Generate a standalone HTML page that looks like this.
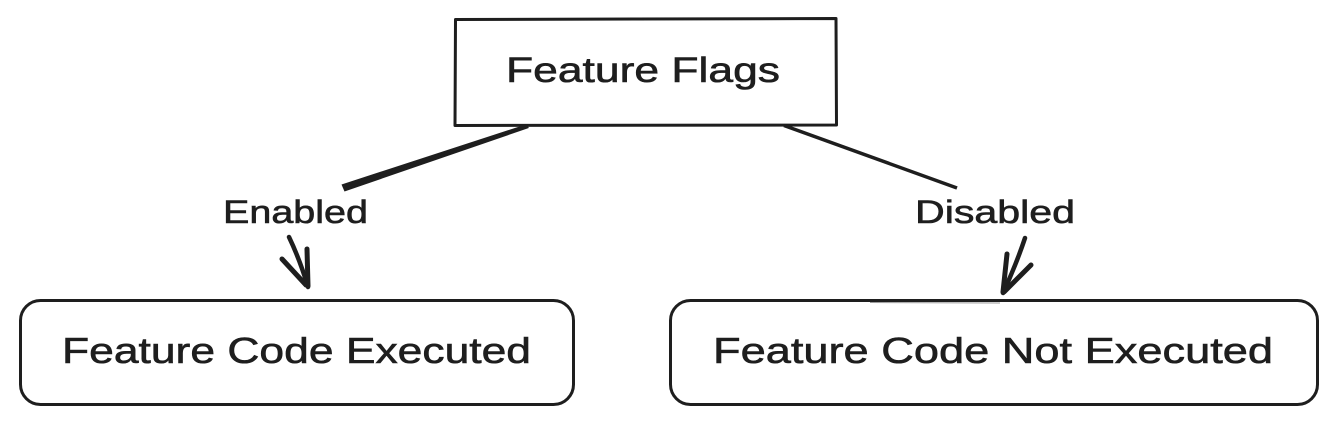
<!DOCTYPE html>
<html>
<head>
<meta charset="utf-8">
<style>
  html, body { margin: 0; padding: 0; background: #ffffff; }
  body { width: 1337px; height: 425px; overflow: hidden; }
  svg { display: block; }
  text { font-family: "Liberation Sans", "DejaVu Sans", sans-serif; fill: #1e1e1e; stroke: #1e1e1e; stroke-width: 0.6; }
</style>
</head>
<body>
<svg width="1337" height="425" viewBox="0 0 1337 425" xmlns="http://www.w3.org/2000/svg">
  <rect x="0" y="0" width="1337" height="425" fill="#ffffff"/>

  <!-- Top box -->
  <path d="M455.5 19.5 L836 18.5 L836.5 125 L455 125.5 Z" fill="none" stroke="#1e1e1e" stroke-width="3" stroke-linejoin="round"/>
  <text x="506" y="82" font-size="35" textLength="274" lengthAdjust="spacingAndGlyphs">Feature Flags</text>

  <!-- Left connector (tapered) -->
  <polygon points="528.8,128 527.2,124 341.5,184.5 344.5,191.5" fill="#1e1e1e"/>
  <!-- Right connector -->
  <path d="M784 125.5 L957 188" fill="none" stroke="#1e1e1e" stroke-width="3.5" stroke-linecap="butt"/>

  <!-- Labels -->
  <text x="223" y="223" font-size="32" textLength="145" lengthAdjust="spacingAndGlyphs">Enabled</text>
  <text x="915" y="223" font-size="32" textLength="160" lengthAdjust="spacingAndGlyphs">Disabled</text>

  <!-- Left arrow -->
  <path d="M289 237 Q300 260 308 287" fill="none" stroke="#1e1e1e" stroke-width="4.5" stroke-linecap="round"/>
  <path d="M282 259 L306 285" fill="none" stroke="#1e1e1e" stroke-width="5" stroke-linecap="round"/>
  <path d="M307 249 L308 286" fill="none" stroke="#1e1e1e" stroke-width="5" stroke-linecap="round"/>

  <!-- Right arrow -->
  <path d="M1025 238 Q1016 265 1003 293" fill="none" stroke="#1e1e1e" stroke-width="4.5" stroke-linecap="round"/>
  <path d="M1007 254 L1003 292" fill="none" stroke="#1e1e1e" stroke-width="5" stroke-linecap="round"/>
  <path d="M1031 265 L1004 292" fill="none" stroke="#1e1e1e" stroke-width="5" stroke-linecap="round"/>

  <!-- Bottom-left box -->
  <rect x="20.5" y="300.5" width="553" height="104" rx="20" ry="20" fill="none" stroke="#1e1e1e" stroke-width="3"/>
  <text x="62" y="363" font-size="36" textLength="469" lengthAdjust="spacingAndGlyphs">Feature Code Executed</text>

  <!-- Bottom-right box -->
  <rect x="670.5" y="300.5" width="647" height="104" rx="20" ry="20" fill="none" stroke="#1e1e1e" stroke-width="3"/>
  <path d="M870 302.5 L1000 303" stroke="#9a9a9a" stroke-width="1" fill="none"/>
  <text x="713" y="363" font-size="36" textLength="560" lengthAdjust="spacingAndGlyphs">Feature Code Not Executed</text>
</svg>
</body>
</html>
